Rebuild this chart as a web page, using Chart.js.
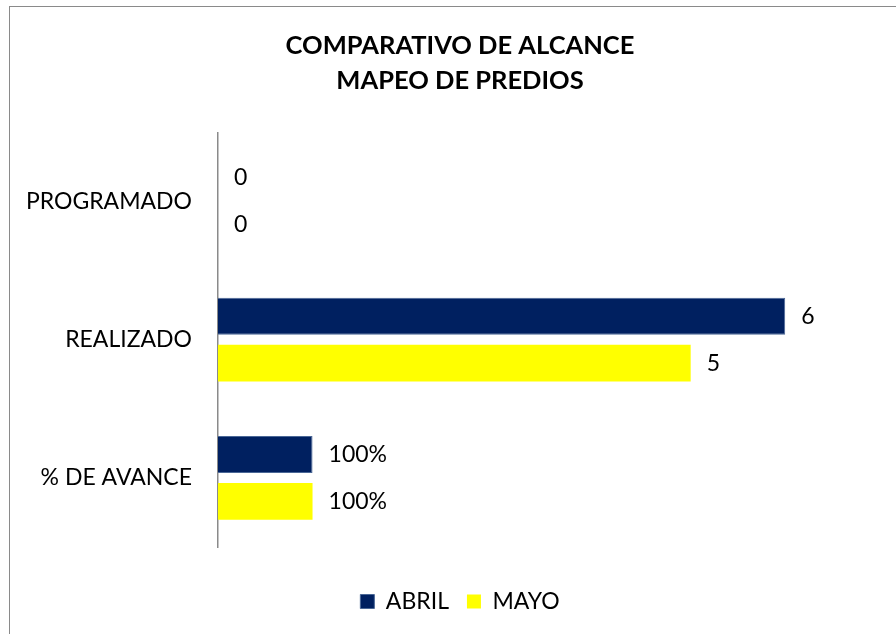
<!DOCTYPE html>
<html>
<head>
<meta charset="utf-8">
<script src="https://cdn.jsdelivr.net/npm/chart.js@4"></script>
<style>
  html, body { margin: 0; padding: 0; background: #fff; overflow: hidden; width: 896px; height: 634px; }
  #wrap { position: absolute; left: 9px; top: 6px; width: 900px; height: 640px;
          border-top: 1.5px solid #8a8a8a; border-left: 1.5px solid #8a8a8a; box-sizing: border-box; }
  canvas { display: block; }
</style>
</head>
<body>
<div id="wrap"><canvas id="c" width="900" height="640"></canvas></div>
<script>
const categories = ['PROGRAMADO', 'REALIZADO', '% DE AVANCE'];
const seriesNames = ['ABRIL', 'MAYO'];
const abrilValues = [0, 6, 1];
const mayoValues = [0, 5, 1];
const valueFormats = ['number', 'number', 'percent'];
const titleLines = ['COMPARATIVO DE ALCANCE', 'MAPEO DE PREDIOS'];

function fmt(v, i) {
  return valueFormats[i] === 'percent' ? Math.round(v * 100) + '%' : String(v);
}

const valueLabels = {
  id: 'valueLabels',
  afterDatasetsDraw(chart) {
    const ctx = chart.ctx;
    ctx.save();
    ctx.font = '23px Lato';
    ctx.fillStyle = '#000';
    ctx.textAlign = 'left';
    ctx.textBaseline = 'middle';
    chart.data.datasets.forEach((ds, di) => {
      const meta = chart.getDatasetMeta(di);
      meta.data.forEach((el, i) => {
        ctx.fillText(fmt(ds.data[i], i), el.x + 16, el.y);
      });
    });
    ctx.restore();
  }
};

new Chart(document.getElementById('c'), {
  type: 'bar',
  data: {
    labels: categories,
    datasets: [
      { label: seriesNames[0], data: abrilValues, backgroundColor: '#002060', borderColor: '#4a6796', borderWidth: 1,
        categoryPercentage: 0.678, barPercentage: 0.787 },
      { label: seriesNames[1], data: mayoValues, backgroundColor: '#FFFF00', borderWidth: 0,
        categoryPercentage: 0.678, barPercentage: 0.787 }
    ]
  },
  options: {
    indexAxis: 'y',
    responsive: false,
    animation: false,
    layout: { padding: { left: 0, right: 0, top: 21, bottom: 24 } },
    scales: {
      x: {
        display: true, min: 0, max: 7.32,
        afterFit(scale) { scale.height = 25; },
        grid: { display: false, drawTicks: false },
        border: { display: false },
        ticks: { display: false }
      },
      y: {
        afterFit(scale) { scale.width = 208; },
        grid: { display: false, drawTicks: false },
        border: { display: true, color: '#8a8a8a', width: 1.5 },
        ticks: { color: '#000', font: { family: 'Lato', size: 23 }, padding: 26 }
      }
    },
    plugins: {
      title: {
        display: true,
        text: titleLines,
        color: '#000',
        font: { family: 'Lato', size: 25.5, weight: 'bold', lineHeight: 1.38 },
        padding: { top: 0, bottom: 34 }
      },
      legend: {
        position: 'bottom',
        labels: { color: '#000', font: { family: 'Lato', size: 23 }, boxWidth: 14, boxHeight: 14, padding: 18 }
      },
      tooltip: { enabled: false }
    }
  },
  plugins: [valueLabels]
});
</script>
</body>
</html>
